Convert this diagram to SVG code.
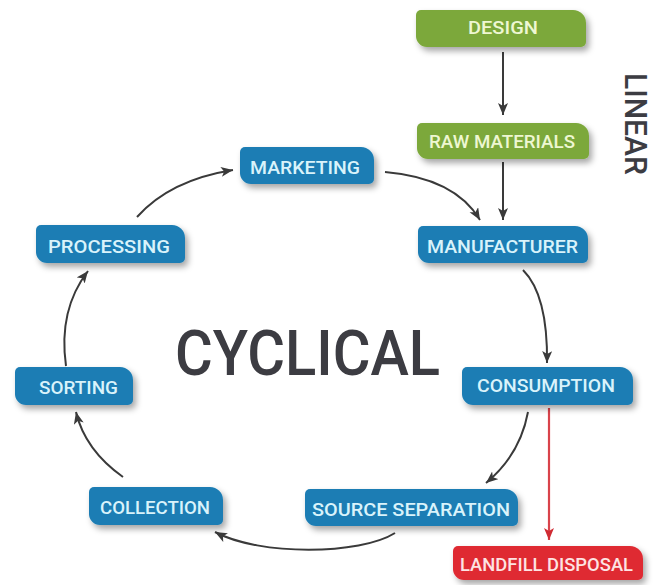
<svg xmlns="http://www.w3.org/2000/svg" width="664" height="585" viewBox="0 0 664 585">
  <style>
    .box { filter: url(#shadow); }
    .blue { fill: #1d7db4; }
    .green { fill: #7ba83b; }
    .red { fill: #df2a33; }
    .lbl { font-family: Roboto, "Liberation Sans", sans-serif; font-size: 18px; font-weight: 500; text-anchor: start; }
    .lbl-blue { fill: #d9f3fb; }
    .lbl-green { fill: #eef7d2; }
    .lbl-red { fill: #fde3e3; }
    .title { font-family: Roboto, "Liberation Sans", sans-serif; font-weight: 500; fill: #3c3c42; }
    .conn { fill: none; stroke: #3a3a3a; stroke-width: 2; marker-end: url(#head); }
    .conn-red { fill: none; stroke: #d9434a; stroke-width: 2.2; marker-end: url(#head-red); }
  </style>
  <defs>
    <filter id="shadow" x="-10%" y="-30%" width="130%" height="180%">
      <feDropShadow dx="3" dy="4" stdDeviation="3" flood-color="#000" flood-opacity="0.35"/>
    </filter>
    <marker id="head" markerUnits="userSpaceOnUse" markerWidth="16" markerHeight="14" refX="12" refY="5" orient="auto">
      <path d="M0,0 L12,5 L0,10 L3,5 Z" fill="#3a3a3a"/>
    </marker>
    <marker id="head-red" markerUnits="userSpaceOnUse" markerWidth="16" markerHeight="14" refX="12" refY="5" orient="auto">
      <path d="M0,0 L12,5 L0,10 L3,5 Z" fill="#d02b33"/>
    </marker>
  </defs>

  <rect width="664" height="585" fill="#ffffff"/>

  <!-- headings -->
  <text class="title" x="175" y="375" font-size="63" textLength="265" lengthAdjust="spacingAndGlyphs">CYCLICAL</text>
  <text class="title" transform="translate(625,73) rotate(90)" x="0" y="0" font-size="32" textLength="102" lengthAdjust="spacingAndGlyphs">LINEAR</text>

  <!-- connectors -->
  <g id="connectors">
    <path class="conn" d="M503,52 V115"/>
    <path class="conn" d="M503,162 V220"/>
    <path class="conn" d="M385,172 Q455,178 480,220"/>
    <path class="conn" d="M523,270 Q548,295 547,363"/>
    <path class="conn" d="M528,412 Q520,455 486,483"/>
    <path class="conn-red" d="M549,408 V540"/>
    <path class="conn" d="M395,533 C360,555 260,556 215,532"/>
    <path class="conn" d="M123,477 Q85,450 76,412"/>
    <path class="conn" d="M66,366 Q58,310 88,271"/>
    <path class="conn" d="M137,217 Q170,180 233,170"/>
  </g>

  <!-- nodes -->
  <g id="design">
    <path class="box green" d="M421,10 H573 A13,13 0 0 1 586,23 V42 A5,5 0 0 1 581,47 H427 A11,11 0 0 1 416,36 V15 A5,5 0 0 1 421,10 Z"/>
    <text class="lbl lbl-green" x="468" y="34" textLength="70" lengthAdjust="spacingAndGlyphs">DESIGN</text>
  </g>
  <g id="raw-materials">
    <path class="box green" d="M422,123 H576 A13,13 0 0 1 589,136 V154 A5,5 0 0 1 584,159 H428 A11,11 0 0 1 417,148 V128 A5,5 0 0 1 422,123 Z"/>
    <text class="lbl lbl-green" x="429" y="148" textLength="146" lengthAdjust="spacingAndGlyphs">RAW MATERIALS</text>
  </g>
  <g id="marketing">
    <path class="box blue" d="M245,147 H361 A13,13 0 0 1 374,160 V179 A5,5 0 0 1 369,184 H251 A11,11 0 0 1 240,173 V152 A5,5 0 0 1 245,147 Z"/>
    <text class="lbl lbl-blue" x="250" y="174" textLength="110" lengthAdjust="spacingAndGlyphs">MARKETING</text>
  </g>
  <g id="processing">
    <path class="box blue" d="M41,225 H172 A13,13 0 0 1 185,238 V258 A5,5 0 0 1 180,263 H47 A11,11 0 0 1 36,252 V230 A5,5 0 0 1 41,225 Z"/>
    <text class="lbl lbl-blue" x="48" y="253" textLength="122" lengthAdjust="spacingAndGlyphs">PROCESSING</text>
  </g>
  <g id="manufacturer">
    <path class="box blue" d="M423,226 H575 A13,13 0 0 1 588,239 V258 A5,5 0 0 1 583,263 H429 A11,11 0 0 1 418,252 V231 A5,5 0 0 1 423,226 Z"/>
    <text class="lbl lbl-blue" x="427" y="253" textLength="151" lengthAdjust="spacingAndGlyphs">MANUFACTURER</text>
  </g>
  <g id="consumption">
    <path class="box blue" d="M467,367 H620 A13,13 0 0 1 633,380 V400 A5,5 0 0 1 628,405 H473 A11,11 0 0 1 462,394 V372 A5,5 0 0 1 467,367 Z"/>
    <text class="lbl lbl-blue" x="477" y="392" textLength="138" lengthAdjust="spacingAndGlyphs">CONSUMPTION</text>
  </g>
  <g id="sorting">
    <path class="box blue" d="M20,367 H120 A13,13 0 0 1 133,380 V400 A5,5 0 0 1 128,405 H26 A11,11 0 0 1 15,394 V372 A5,5 0 0 1 20,367 Z"/>
    <text class="lbl lbl-blue" x="39" y="394" textLength="79" lengthAdjust="spacingAndGlyphs">SORTING</text>
  </g>
  <g id="collection">
    <path class="box blue" d="M94,487 H210 A13,13 0 0 1 223,500 V520 A5,5 0 0 1 218,525 H100 A11,11 0 0 1 89,514 V492 A5,5 0 0 1 94,487 Z"/>
    <text class="lbl lbl-blue" x="100" y="514" textLength="110" lengthAdjust="spacingAndGlyphs">COLLECTION</text>
  </g>
  <g id="source-separation">
    <path class="box blue" d="M310,489 H505 A13,13 0 0 1 518,502 V521 A5,5 0 0 1 513,526 H316 A11,11 0 0 1 305,515 V494 A5,5 0 0 1 310,489 Z"/>
    <text class="lbl lbl-blue" x="312" y="516" textLength="198" lengthAdjust="spacingAndGlyphs">SOURCE SEPARATION</text>
  </g>
  <g id="landfill-disposal">
    <path class="box red" d="M458,546 H630 A13,13 0 0 1 643,559 V575 A5,5 0 0 1 638,580 H464 A11,11 0 0 1 453,569 V551 A5,5 0 0 1 458,546 Z"/>
    <text class="lbl lbl-red" x="460" y="571" textLength="173" lengthAdjust="spacingAndGlyphs">LANDFILL DISPOSAL</text>
  </g>
</svg>
